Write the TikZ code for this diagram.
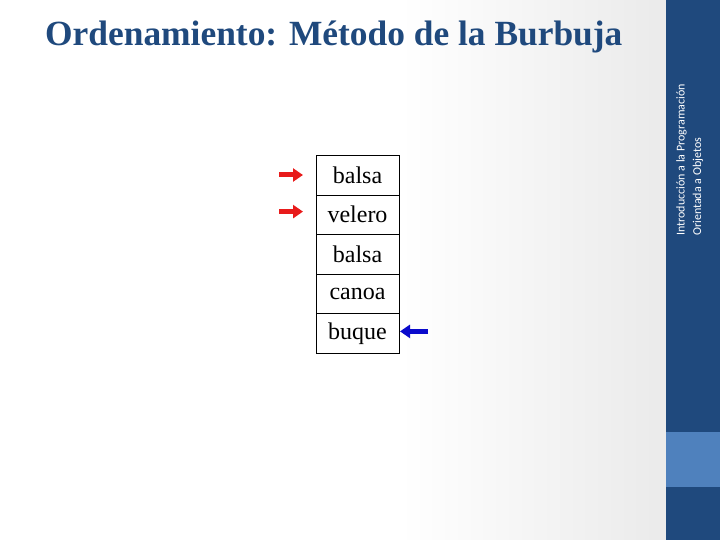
\documentclass[tikz,border=0pt]{standalone}
\usepackage{fontspec}
\setmainfont{Liberation Serif}
\newfontfamily\sidefont{Carlito}
\usetikzlibrary{arrows.meta}
\usetikzlibrary{positioning}
\definecolor{burbujatitle}{HTML}{1F497D}
\definecolor{burbujaside}{HTML}{1F497D}
\definecolor{burbujablock}{HTML}{4F81BD}
\definecolor{burbujared}{HTML}{E81B1B}
\definecolor{burbujablue}{HTML}{0A0ACC}

\begin{document}
\begin{tikzpicture}[x=1pt,y=-1pt,
    celda/.style={draw, minimum width=83pt, minimum height=39.6pt, inner sep=0pt, outer sep=0pt, font=\fontsize{24}{24}\selectfont},
    puntero/.style={line width=5pt, -{Triangle[length=10pt,width=13pt]}}]
        \newcommand{\burbujacellx}{357.5}
        \newcommand{\burbujacelly}{175}
        \newcommand{\burbujagap}{13pt}
        \useasboundingbox (0,0) rectangle (720,540);
        % fondo y barra lateral
        \shade[left color=white, right color=gray!16] (400,0) rectangle (660,540);
        \fill[gray!16] (660,0) rectangle (666,540);
        \fill[burbujaside] (666,0) rectangle (720,540);
        \fill[burbujablock] (666,432) rectangle (720,487);
        \node[anchor=north west, rotate=90, align=left, text=white, inner sep=0pt,
              font=\sidefont\fontsize{12}{16.5}\selectfont] (lateral) at (676,236)
            {Introducción a la Programación\\Orientada a Objetos};
        % titulo
        \node[anchor=base west, inner sep=0pt, text=burbujatitle,
              font=\bfseries\fontsize{35.4}{36}\selectfont] (titulo) at (45,46)
            {Ordenamiento: Método de la Burbuja};
        % arreglo
        \node[celda] (c1) at (\burbujacellx,\burbujacelly) {balsa};
        \node[celda, below=0pt of c1] (c2) {velero};
        \node[celda, below=0pt of c2] (c3) {balsa};
        \node[celda, below=0pt of c3] (c4) {canoa};
        \node[celda, below=0pt of c4] (c5) {buque};
        % punteros
        \coordinate[left=37pt of c1.west] (p1);
        \coordinate[left=37pt of c2.west, yshift=3pt] (p2);
        \coordinate[right=29pt of c5.east, yshift=2pt] (p3);
        \draw[puntero, burbujared] (p1) -- ([xshift=-\burbujagap]c1.west);
        \draw[puntero, burbujared] (p2) -- ([xshift=-\burbujagap, yshift=3pt]c2.west);
        \draw[puntero, burbujablue] (p3) -- ([xshift=1pt, yshift=2pt]c5.east);
    \end{tikzpicture}
\end{document}
